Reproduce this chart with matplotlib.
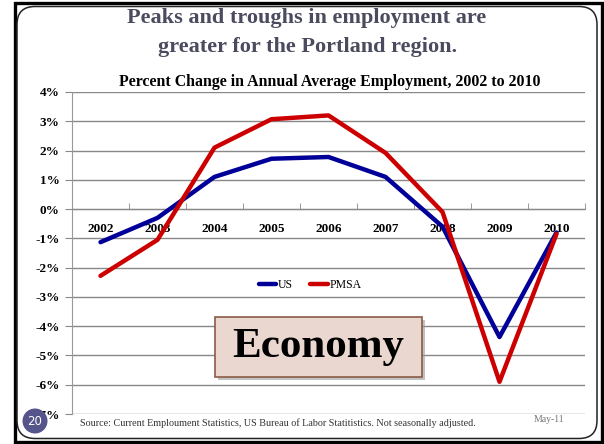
import matplotlib.pyplot as plt
from matplotlib.patches import Rectangle, FancyBboxPatch, Circle
from matplotlib.ticker import FuncFormatter, FixedLocator

years = ['2002', '2003', '2004', '2005', '2006', '2007', '2008', '2009', '2010']
us = [-1.13, -0.3, 1.1, 1.72, 1.78, 1.1, -0.6, -4.37, -0.8]
pmsa = [-2.28, -1.05, 2.1, 3.07, 3.2, 1.92, -0.1, -5.9, -0.85]
yticks = list(range(-7, 5))

W, H = 604, 444
SERIF = ['Liberation Serif', 'DejaVu Serif']
TITLE_COLOR = '#4b4b5f'

fig = plt.figure(figsize=(W / 100, H / 100), dpi=100)
fig.patch.set_facecolor('white')

# slide background in pixel coordinates
bg = fig.add_axes([0, 0, 1, 1], zorder=-1)
bg.set_xlim(0, W)
bg.set_ylim(H, 0)
bg.axis('off')
bg.add_patch(Rectangle((14.5, 3.5), 587, 438, fill=False, edgecolor='black', linewidth=2.4))
bg.add_patch(FancyBboxPatch((17, 6.5), 580, 432, boxstyle='round,pad=0,rounding_size=18',
                            facecolor='white', edgecolor='#222222', linewidth=1.1))

fig.text(307 / W, 1 - 18 / H, 'Peaks and troughs in employment are', ha='center', va='center',
         fontsize=16, fontweight='bold', color=TITLE_COLOR, family=SERIF)
fig.text(308 / W, 1 - 47 / H, 'greater for the Portland region.', ha='center', va='center',
         fontsize=16, fontweight='bold', color=TITLE_COLOR, family=SERIF)
fig.text(330 / W, 1 - 82 / H, 'Percent Change in Annual Average Employment, 2002 to 2010',
         ha='center', va='center', fontsize=11.4, fontweight='bold', color='black', family=SERIF)

# chart
ax = fig.add_axes([72 / W, 1 - 414 / H, 513 / W, 322 / H])
x = list(range(len(years)))
ax.plot(x, us, color='#000099', linewidth=3.2, label='US', solid_capstyle='round', zorder=3)
ax.plot(x, pmsa, color='#cc0000', linewidth=3.2, label='PMSA', solid_capstyle='round', zorder=3)
ax.set_xlim(-0.5, len(years) - 0.5)
ax.set_ylim(-7, 4)
ax.set_yticks(yticks)
ax.yaxis.set_major_formatter(FuncFormatter(lambda v, p: '%d%%' % v))
ax.grid(axis='y', color='#888888', linewidth=1.0)
ax.set_axisbelow(True)
for s in ['top', 'right']:
    ax.spines[s].set_visible(False)
ax.spines['left'].set_color('#999999')
ax.spines['bottom'].set_position(('data', 0))
ax.spines['bottom'].set_color('#888888')
ax.set_xticks(x)
ax.set_xticklabels(years)
ax.xaxis.set_minor_locator(FixedLocator([i + 0.5 for i in range(len(years))]))
ax.tick_params(axis='x', which='major', length=0, pad=10)
ax.tick_params(axis='x', which='minor', direction='in', length=4, color='#888888')
ax.tick_params(axis='y', length=5, color='#888888', direction='out', pad=4)
for lbl in ax.get_xticklabels() + ax.get_yticklabels():
    lbl.set_family(SERIF)
    lbl.set_fontweight('bold')
    lbl.set_fontsize(9.5)
ax.legend(loc='center', bbox_to_anchor=(310 / W, 1 - 285 / H), bbox_transform=fig.transFigure,
          ncol=2, frameon=False, handlelength=1.5, handletextpad=0.1, columnspacing=1.5,
          prop={'family': SERIF, 'size': 8.5})

# Economy label box
bg2 = fig.add_axes([0, 0, 1, 1], zorder=5)
bg2.set_xlim(0, W)
bg2.set_ylim(H, 0)
bg2.axis('off')
bg2.add_patch(Rectangle((218, 320), 207, 60, facecolor='#9a9a9a', edgecolor='none', alpha=0.6))
bg2.add_patch(Rectangle((215, 317), 207, 60, facecolor='#ead8d0', edgecolor='#8b5a45', linewidth=1.2))
bg2.text(318, 347, 'Economy', ha='center', va='center', fontsize=31, fontweight='bold',
         color='black', family=SERIF)
bg2.add_patch(Circle((35, 421), 12.5, facecolor='#55558b', edgecolor='none'))
bg2.text(35, 421.5, '20', ha='center', va='center', fontsize=8.5, color='white', family='DejaVu Sans')
bg2.text(80, 423, 'Source: Current Emploument Statistics, US Bureau of Labor Statitistics. Not seasonally adjusted.',
         ha='left', va='center', fontsize=7.3, color='#333333', family=SERIF)
bg2.text(549, 419, 'May-11', ha='center', va='center', fontsize=7, color='#777777', family=SERIF)

fig.savefig('out.png', dpi=100)
